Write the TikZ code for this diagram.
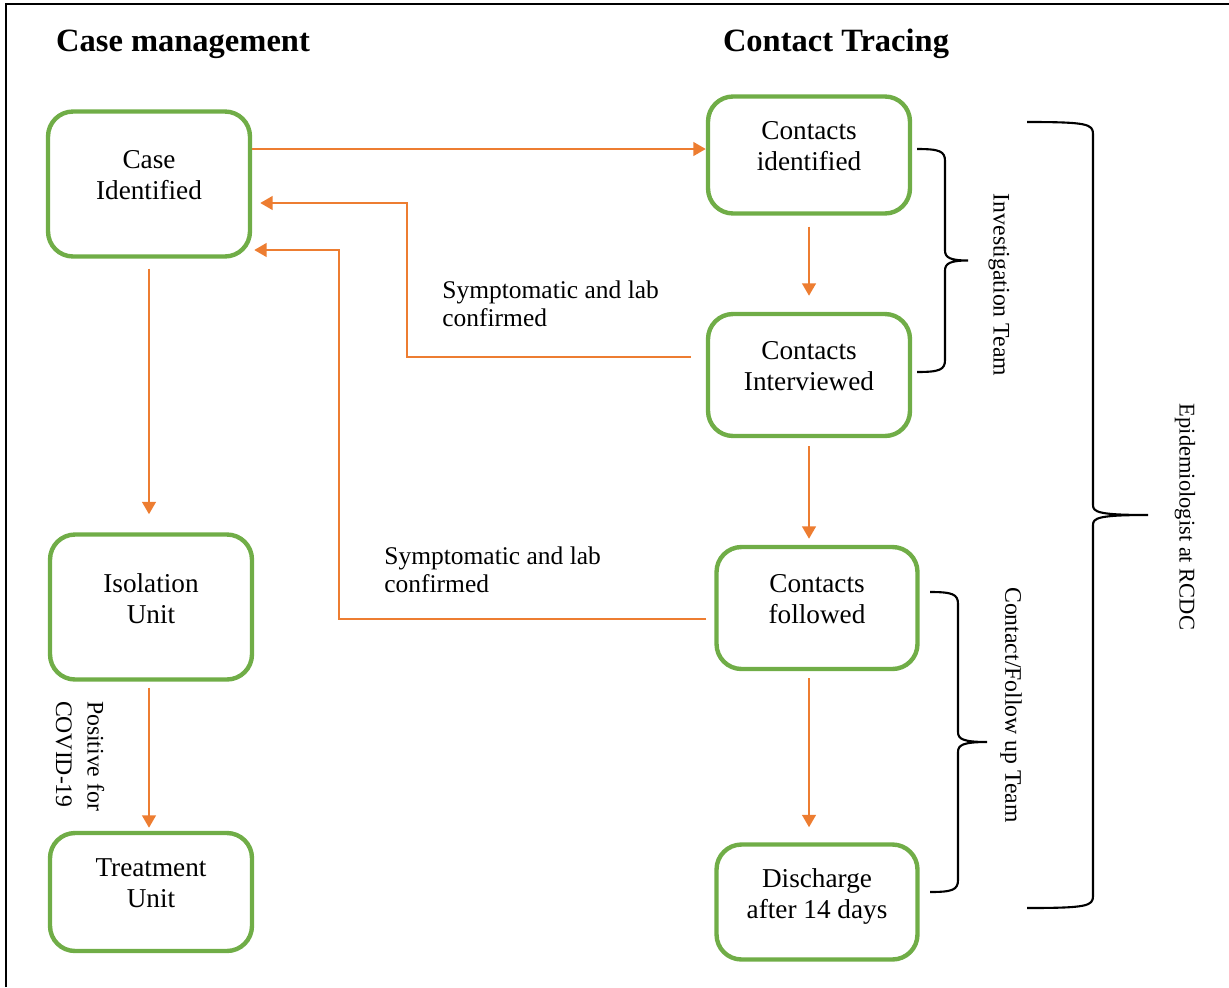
\documentclass[tikz,border=0pt]{standalone}
\usepackage{fontspec}
\setmainfont{Liberation Serif}
\usepackage{tikz}
\usetikzlibrary{arrows.meta,positioning}

\definecolor{boxgreen}{HTML}{70AD47}
\definecolor{flowline}{HTML}{ED7D31}

% right-hand brace: x of the ends, x of the stem, x of the tip, top y, bottom y
\newcommand{\sidebrace}[5]{%
  \draw[bracket] (#1,#4) .. controls (#2-6,#4) and (#2,#4+2) .. (#2,#4+12)
    -- (#2,{(#4+#5)/2-10}) .. controls (#2,{(#4+#5)/2-3}) and (#2+5,{(#4+#5)/2}) .. (#3,{(#4+#5)/2})
    .. controls (#2+5,{(#4+#5)/2}) and (#2,{(#4+#5)/2+3}) .. (#2,{(#4+#5)/2+10})
    -- (#2,#5-12) .. controls (#2,#5-2) and (#2-6,#5) .. (#1,#5);}

\begin{document}
\begin{tikzpicture}[x=0.02cm, y=-0.02cm,  % one unit is one pixel of the page
    stage/.style={draw=boxgreen, line width=2.5pt, rounded corners=0.5cm, align=center,
                  minimum width=4.04cm, text depth=10pt, font=\fontsize{15.5}{17.6}\selectfont},
    flow/.style={draw=flowline, line width=1.6pt, -{Triangle[width=0.27cm,length=0.25cm]}},
    note/.style={align=left, inner sep=0pt, font=\fontsize{14.5}{16}\selectfont},
    heading/.style={font=\fontsize{18.5}{22}\selectfont\bfseries},
    team/.style={rotate=-90, align=left, inner sep=0pt, font=\fontsize{13.5}{18}\selectfont},
    bracket/.style={line width=1.2pt}]

            \useasboundingbox (0,0) rectangle (1229,987);

            % Frame
            \draw[line width=1.7pt] (6,987) -- (6,4) -- (1229,4);

            % Headings
            \node[heading] (cmtitle) at (183,44) {Case management};
            \node[heading] (cttitle) at (836,44) {Contact Tracing};

            % Boxes
            \node[stage, minimum height=2.9cm] (case) at (149,184) {Case\\Identified};
            \node[stage, minimum height=2.9cm] (isol) at (151,607) {Isolation\\Unit};
            \node[stage, minimum height=2.36cm] (treat) at (151,892) {Treatment\\Unit};
            \node[stage, minimum height=2.34cm] (cid) at (809,155) {Contacts\\identified};
            \node[stage, minimum height=2.44cm] (cint) at (809,375) {Contacts\\Interviewed};
            \node[stage, minimum height=2.44cm, minimum width=4.02cm] (cfol) at (817,608) {Contacts\\followed};
            \node[stage, minimum height=2.3cm, minimum width=4.02cm] (disch) at (817,902) {Discharge\\after 14 days};

            % Arrows
            \coordinate (cidin) at ([yshift=0.12cm]cid.west);
            \draw[flow] (case.east |- cidin) -- (cidin);
            \draw[flow, shorten <=0.22cm, shorten >=0.32cm] (cid.south) -- (cint.north);
            \draw[flow, shorten <=0.16cm, shorten >=0.12cm] (cint.south) -- (cfol.north -| cint.south);
            \draw[flow, shorten <=0.14cm, shorten >=0.3cm] (cfol.south -| cint.south) -- (disch.north -| cint.south);
            \draw[flow, shorten <=0.2cm, shorten >=0.36cm] (case.south) -- (isol.north -| case.south);
            \draw[flow, shorten <=0.12cm, shorten >=0.06cm] (isol.south -| case.south) -- (treat.north -| case.south);

            \coordinate (bendA) at (407,357);
            \coordinate (bendB) at (407,203);
            \draw[flow, shorten <=0.3cm, shorten >=0.16cm] (cint.west |- bendA) -- (bendA) -- (bendB) -- (case.east |- bendB);
            \coordinate (bendC) at (339,619);
            \coordinate (bendD) at (339,250);
            \draw[flow, shorten <=0.16cm, shorten >=0.04cm] (cfol.west |- bendC) -- (bendC) -- (bendD) -- (case.east |- bendD);

            % Text
            \node[note, anchor=west] (symA) at (442,304) {Symptomatic and lab\\confirmed};
            \node[note, anchor=west] (symB) at (384,570) {Symptomatic and lab\\confirmed};
            \node[team] (posc) at (80,756) {Positive for\\COVID-19};

            % Braces
            \sidebrace{917}{945}{968}{149}{372}
            \sidebrace{930}{958}{987}{592}{892}
            \sidebrace{1027}{1093}{1148}{122}{908}

            \node[team] (invt) at (999,285) {Investigation Team};
            \node[team] (fupt) at (1011,705) {Contact/Follow up Team};
            \node[team, font=\fontsize{12.8}{15}\selectfont] (epit) at (1185,517) {Epidemiologist at RCDC};

        \end{tikzpicture}
\end{document}
